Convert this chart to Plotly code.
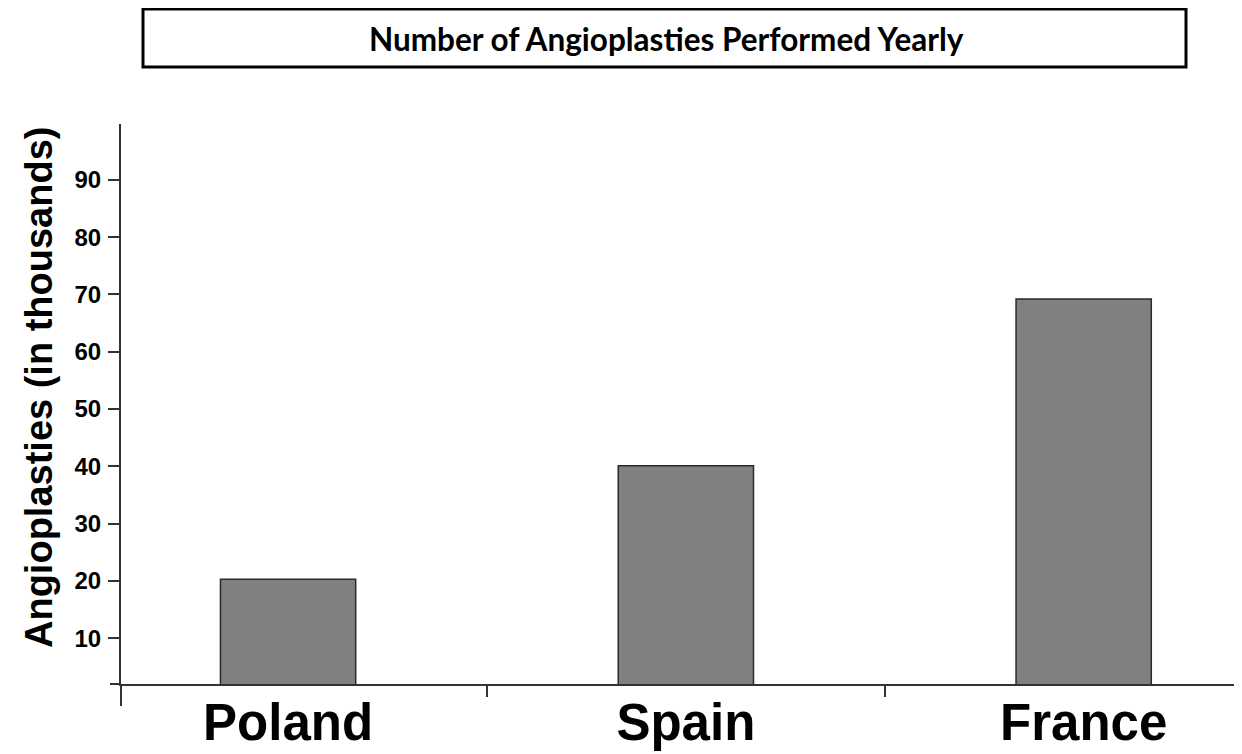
import plotly.graph_objects as go

countries = ["Poland", "Spain", "France"]
angioplasties_thousands = [20.3, 40.1, 69.2]
y_tick_values = [10, 20, 30, 40, 50, 60, 70, 80, 90]
title_text = "Number of Angioplasties Performed Yearly"
y_title_text = "Angioplasties (in thousands)"

# page has a default 8px body margin; work in screen pixels and convert
OFF = 8
W, H = 1242, 754
plot_left, plot_right, plot_top, plot_bottom = 121, 1240, 124, 684
L = plot_left - OFF
T = plot_top - OFF
R = W - (plot_right - OFF)
B = H - (plot_bottom - OFF)
pw, ph = plot_right - plot_left, plot_bottom - plot_top


def px_x(p):
    return (p - plot_left) / pw


def px_y(p):
    return (plot_bottom - p) / ph


fig = go.Figure()
fig.add_trace(go.Bar(
    x=countries,
    y=angioplasties_thousands,
    width=0.34,
    marker=dict(color="#808080", line=dict(color="#2a2a2a", width=1.5)),
    showlegend=False,
))

axis_col = "#333333"
fig.update_layout(
    width=W, height=H,
    margin=dict(l=L, r=R, t=T, b=B, autoexpand=False),
    paper_bgcolor="white", plot_bgcolor="white",
    font=dict(family="Liberation Sans, Arial, sans-serif", color="black"),
    xaxis=dict(
        range=[-0.42, 2.393],
        showline=True, linecolor=axis_col, linewidth=2,
        ticks="outside", tickson="boundaries", ticklen=11, tickwidth=1.5, tickcolor=axis_col,
        tickfont=dict(size=51, family="Liberation Sans, Arial, sans-serif", weight="bold"),
        ticklabelstandoff=-7,
        showgrid=False, zeroline=False, automargin=False,
    ),
    yaxis=dict(
        range=[2.0, 99.75],
        showline=True, linecolor=axis_col, linewidth=2,
        ticks="outside", ticklen=11, tickwidth=2, tickcolor=axis_col,
        tickvals=y_tick_values,
        tickfont=dict(size=24, family="Liberation Sans, Arial, sans-serif", weight="bold"),
        ticklabelstandoff=2,
        showgrid=False, zeroline=False, automargin=False,
    ),
    shapes=[
        dict(type="rect", xref="paper", yref="paper",
             x0=px_x(143), x1=px_x(1186), y0=px_y(67), y1=px_y(9),
             line=dict(color="black", width=3), fillcolor="white", layer="below"),
        dict(type="line", xref="paper", yref="paper",
             x0=0, x1=0, y0=px_y(684), y1=px_y(706),
             line=dict(color=axis_col, width=2)),
        dict(type="line", xref="paper", yref="paper",
             x0=px_x(110), x1=0, y0=0, y1=0,
             line=dict(color=axis_col, width=2)),
    ],
    annotations=[
        dict(text=title_text, xref="paper", yref="paper",
             x=px_x(666), y=px_y(39), xanchor="center", yanchor="middle",
             showarrow=False,
             font=dict(family="Lato, Open Sans, sans-serif", size=31.5, weight="bold", color="black")),
        dict(text=y_title_text, xref="paper", yref="paper",
             x=px_x(39), y=px_y(388), xanchor="center", yanchor="middle",
             textangle=-90, showarrow=False,
             font=dict(family="Liberation Sans, Arial, sans-serif", size=38, weight="bold", color="black")),
    ],
)

fig.write_html("out.html")
